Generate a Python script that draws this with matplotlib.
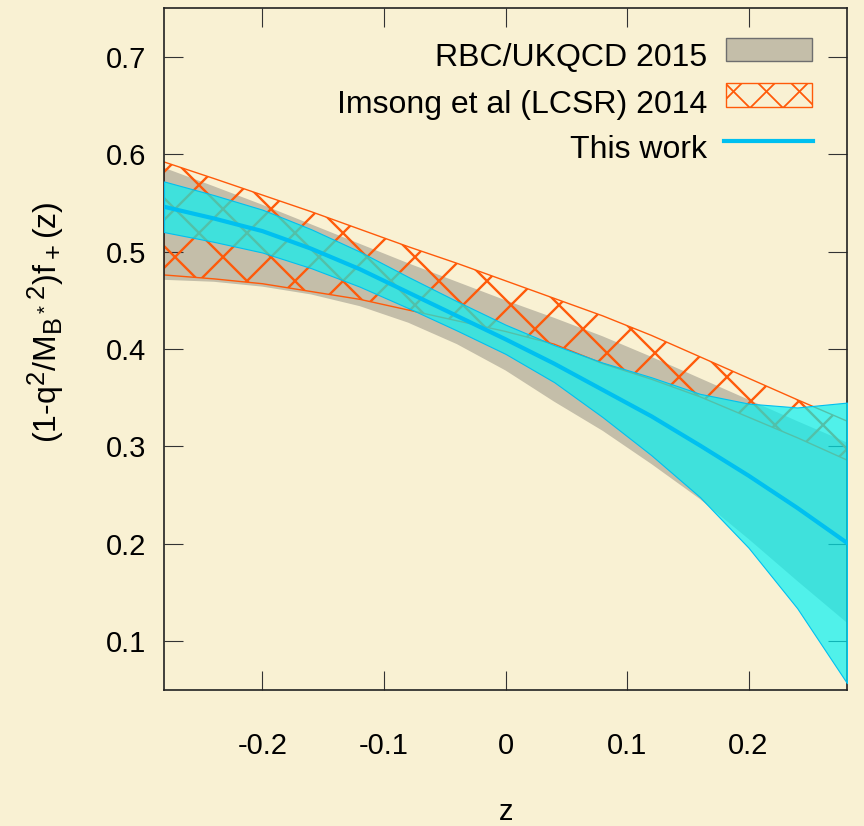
import numpy as np
import matplotlib
matplotlib.use('Agg')
import matplotlib.pyplot as plt
import matplotlib._mathtext as mathtext_internals
from matplotlib.collections import LineCollection
from matplotlib.patches import Rectangle
from matplotlib.transforms import IdentityTransform
from matplotlib.colors import to_rgba

plt.rcParams['font.family'] = ['Liberation Sans', 'DejaVu Sans']
plt.rcParams['mathtext.fontset'] = 'custom'
plt.rcParams['mathtext.rm'] = 'Liberation Sans'
plt.rcParams['mathtext.default'] = 'regular'
plt.rcParams['axes.unicode_minus'] = False
# gnuplot-like bigger sub/superscripts
mathtext_internals.SHRINK_FACTOR = 0.8

z = [-0.281, -0.24, -0.2, -0.16, -0.12, -0.08, -0.04, 0.0,
     0.04, 0.08, 0.12, 0.16, 0.2, 0.24, 0.281]

# RBC/UKQCD 2015 band
rbc_hi = [0.586, 0.567, 0.548, 0.528, 0.508, 0.488, 0.469, 0.450,
          0.432, 0.413, 0.392, 0.370, 0.348, 0.326, 0.304]
rbc_lo = [0.471, 0.469, 0.464, 0.456, 0.444, 0.427, 0.405, 0.378,
          0.346, 0.316, 0.282, 0.246, 0.205, 0.162, 0.119]

# Imsong et al (LCSR) 2014 band
lcsr_hi = [0.592, 0.575, 0.558, 0.541, 0.523, 0.505, 0.488, 0.470,
           0.452, 0.434, 0.414, 0.392, 0.370, 0.348, 0.326]
lcsr_lo = [0.476, 0.472, 0.467, 0.459, 0.451, 0.440, 0.429, 0.418,
           0.405, 0.385, 0.369, 0.351, 0.330, 0.309, 0.286]

# This work: central value and error
tw_mid = [0.546, 0.534, 0.521, 0.503, 0.482, 0.458, 0.434, 0.410,
          0.385, 0.358, 0.331, 0.301, 0.270, 0.237, 0.201]
tw_err = [0.026, 0.024, 0.022, 0.020, 0.018, 0.016, 0.015, 0.015,
          0.019, 0.028, 0.040, 0.053, 0.074, 0.103, 0.144]

xticks = [-0.2, -0.1, 0.0, 0.1, 0.2]
xticklabels = ['-0.2', '-0.1', '0', '0.1', '0.2']
yticks = [0.1, 0.2, 0.3, 0.4, 0.5, 0.6, 0.7]

BG = '#f9f1d3'
GREY = '#c4bea9'
ORANGE = '#ff5a0a'
CYAN = '#00f2f5'
BLUE = '#00c0f0'

W, H = 864, 826


def px(x, y):
    # image pixels (top-left origin) -> figure fraction
    return x / W, 1 - y / H


def cross_hatch(artist_path, transform, spacing, off1, off2, color, lw, zorder, parent):
    segs = []
    for c in np.arange(-H - spacing, W + H, spacing):
        segs.append([(c + off1, 0), (c + off1 + H, H)])
        segs.append([(c + off2, H), (c + off2 + H, 0)])
    lc = LineCollection(segs, colors=color, linewidths=lw,
                        transform=IdentityTransform(), zorder=zorder)
    if hasattr(parent, 'add_collection'):
        parent.add_collection(lc, autolim=False)
    else:
        parent.add_artist(lc)
    lc.set_clip_path(artist_path, transform)
    return lc


fig = plt.figure(figsize=(W / 100, H / 100), dpi=100, facecolor=BG)
l, b = px(164, 690)
ax = fig.add_axes([l, b, (847 - 164) / W, (690 - 8) / H])
ax.set_facecolor('none')

z_arr = np.array(z)
mid = np.array(tw_mid)
err = np.array(tw_err)

ax.fill_between(z_arr, rbc_lo, rbc_hi, facecolor=GREY, edgecolor='none', zorder=1)
lcsr = ax.fill_between(z_arr, lcsr_lo, lcsr_hi, facecolor='none',
                       edgecolor=ORANGE, linewidth=1.0, zorder=2)
cross_hatch(lcsr.get_paths()[0], ax.transData, 48, 0, 24, ORANGE, 1.7, 2, ax)
ax.fill_between(z_arr, mid - err, mid + err, facecolor=to_rgba(CYAN, 0.68),
                edgecolor=BLUE, linewidth=0.8, zorder=4)
ax.plot(z_arr, mid, color=BLUE, lw=3.0, zorder=5)

ax.set_xlim(-0.281, 0.281)
ax.set_ylim(0.05, 0.75)
ax.set_xticks(xticks)
ax.set_xticklabels(xticklabels)
ax.set_yticks(yticks)
ax.tick_params(direction='in', length=13.5, width=0.8, color='#333333',
               top=True, right=True, labelsize=21)
ax.tick_params(axis='x', pad=30)
ax.tick_params(axis='y', pad=13)
for s in ax.spines.values():
    s.set_linewidth(1.2)
    s.set_color('#222222')

fig.text(*px(506, 820), 'z', fontsize=21, ha='center', va='baseline')
fig.text(*px(46, 322), r'(1-q$^2$/M$_{B^*}$$^2$)f$_+$(z)', fontsize=23,
         rotation=90, ha='center', va='center')

# legend, drawn by hand
labels = ['RBC/UKQCD 2015', 'Imsong et al (LCSR) 2014', 'This work']
baselines = [66.5, 112.5, 158.5]
for lab, yb in zip(labels, baselines):
    fig.text(*px(707, yb), lab, fontsize=23, ha='right', va='baseline')

x0, y0 = px(726, 61)
rect = Rectangle((x0, y0), 86 / W, 23 / H, transform=fig.transFigure,
                 facecolor=GREY, edgecolor='#6e6e6e', linewidth=1.0)
fig.add_artist(rect)

x0, y0 = px(726, 107)
rect2 = Rectangle((x0, y0), 86 / W, 24 / H, transform=fig.transFigure,
                  facecolor='none', edgecolor=ORANGE, linewidth=1.0)
fig.add_artist(rect2)
cross_hatch(rect2.get_path(), rect2.get_transform(), 33, 0, 16, ORANGE, 1.3, 3, fig)

xa, ya = px(724, 141)
xb, _ = px(813, 141)
fig.add_artist(plt.Line2D([xa, xb], [ya, ya], transform=fig.transFigure,
                          color=BLUE, lw=3.0))

fig.savefig('out.png', dpi=100, facecolor=BG)
